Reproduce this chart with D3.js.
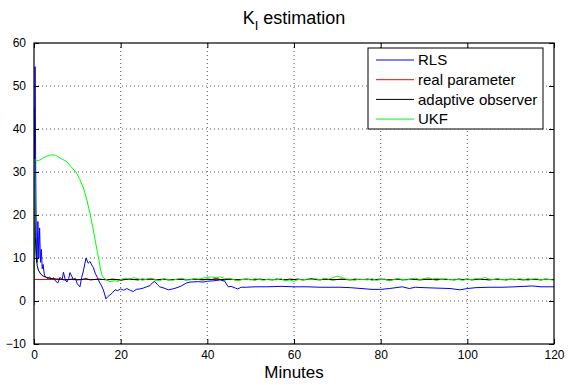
<!DOCTYPE html>
<html>
<head>
<meta charset="utf-8">
<script src="https://cdnjs.cloudflare.com/ajax/libs/d3/7.8.5/d3.min.js"></script>
<style>
  body { margin: 0; background: #fff; }
  svg { font-family: "Liberation Sans", Arial, Helvetica, sans-serif; }
</style>
</head>
<body>
<div id="chart"></div>
<script>
// ---- data ----
var xTicks = [0, 20, 40, 60, 80, 100, 120];
var yTicks = [-10, 0, 10, 20, 30, 40, 50, 60];
var seriesNames = ["RLS", "real parameter", "adaptive observer", "UKF"];
var seriesColors = ["#0000ff", "#ff0000", "#000000", "#00ff00"];

// RLS estimate, [minute, value]
var rlsData = [[0,-1],[0.1,20],[0.25,54.5],[0.4,30],[0.55,12],[0.7,9],[0.9,18.5],[1.1,10],[1.3,17],[1.5,9],
  [1.7,12],[1.9,7.5],[2.1,8.5],[2.4,6],[2.8,5.5],[3.2,5.2],[3.6,5.6],[4.0,5.0],[4.5,5.4],[5.0,4.6],
  [5.5,4.2],[6.0,5.5],[6.5,5.0],[6.8,6.7],[7.2,5.0],[7.6,4.4],[8.0,5.2],[8.3,6.6],[8.7,5.8],[9.1,4.9],
  [9.5,5.3],[10.0,4.0],[10.6,3.3],[11.0,5.5],[11.4,7.0],[12.0,10.0],[12.5,8.8],[12.9,9.2],[13.3,8.4],[13.7,7.8],
  [14.1,6.5],[14.6,5.5],[15.2,4.2],[15.6,3.5],[16.0,2.6],[16.6,0.5],[17.0,1.0],[17.5,1.4],[18.0,1.8],[18.7,2.6],
  [19.3,2.4],[20,2.8],[20.7,2.5],[21.4,2.9],[22.2,2.5],[22.9,2.2],[23.6,2.7],[24.4,2.8],[25.2,3.0],[26,3.3],
  [26.8,3.6],[27.4,4.3],[27.9,4.5],[28.5,3.8],[29,3.3],[30,3.0],[31,2.6],[32,2.8],[33,3.1],[34,3.5],
  [35.2,4.2],[36,4.4],[37.9,4.5],[39,4.4],[40,4.6],[41.5,4.7],[43,4.9],[44,4.6],[44.8,3.3],[45.5,3.4],
  [46.5,3.0],[47,2.8],[47.8,3.2],[49,3.2],[51,3.3],[53.7,3.3],[57,3.4],[60,3.3],[63,3.3],[66,3.2],
  [70.6,3.2],[73,3.1],[76.8,2.8],[78,2.7],[80,2.7],[82,2.9],[85,3.3],[86.6,2.9],[88,3.2],[90,3.1],
  [93,3.0],[96,2.9],[98.3,2.6],[100,2.9],[102,3.1],[105,3.2],[108,3.2],[111,3.3],[115,3.5],[117,3.3],[120,3.3]];

// real parameter
var realData = [[0,5],[120,5]];

// adaptive observer: fast start, then one value per minute from minute 6
var obsHead = [[0,45],[0.15,25],[0.3,15],[0.5,10.3],[0.75,8.2],[1,7.2],[1.4,6.5],[1.8,6.0],[2.3,5.7],[2.9,5.5],[3.5,5.3],[4.2,5.2],[5.2,5.1]];
var obsTailStart = 6;
var obsTail = [5.1,4.9,5.0,5.1,4.9,5.0,5.2,4.9,5.0,5.1,5.0,4.9,5.1,5.0,4.8,5.0,5.1,5.0,4.9,5.1,5.0,5.2,4.9,5.0,5.1,4.9,5.0,5.0,5.1,4.9,
  5.0,5.1,5.0,4.9,5.1,5.0,5.2,5.0,4.9,5.1,5.0,4.9,5.0,5.1,5.0,4.9,5.1,5.0,5.0,4.9,5.1,5.0,4.9,5.1,5.0,5.1,4.9,5.0,5.2,5.0,
  4.9,5.1,5.0,4.9,5.0,5.1,5.0,4.9,5.1,5.0,5.0,5.1,4.9,5.0,5.1,5.0,4.8,5.0,5.1,4.9,5.0,5.1,5.0,4.9,5.0,5.1,5.0,4.9,5.1,5.0,
  5.0,4.9,5.1,5.0,5.1,4.9,5.0,5.1,5.0,4.9,5.0,5.1,5.0,4.9,5.1,5.0,5.0,4.9,5.1,5.0,5.0,4.9,5.1,5.0,5.0];

// UKF: hump, then one value per minute from minute 20
var ukfHead = [[0,5],[0.1,33],[0.3,32.8],[1,32.6],[2,33.2],[3,33.7],[4,34],[5,33.9],[5.6,33.5],[6.5,33.0],
  [7.6,32.4],[8.5,31.3],[9.8,29.8],[10.6,28.2],[11.4,26.3],[12.2,23.5],[13,20],[13.6,17],[14.1,14.2],[14.6,11.5],
  [15,9.5],[15.3,7.5],[15.7,6.0],[16.1,5.3],[17,4.8],[17.5,4.5],[18.5,4.7],[19.5,4.6]];
var ukfTailStart = 20;
var ukfTail = [5.0,5.3,5.1,5.4,5.2,4.8,5.1,5.3,5.0,4.7, 5.2,5.0,4.8,5.1,5.3,5.0,4.9,5.2,5.1,5.3,
  5.5,5.6,5.4,5.6,5.2,5.3,5.0,4.7,5.0,5.1, 4.9,5.2,5.0,4.8,5.1,5.0,4.9,5.2,4.7,4.9,
  4.6,5.0,4.9,5.1,5.0,5.2,4.9,5.3,5.1,5.4, 5.8,5.5,5.1,5.0,4.8,5.1,5.0,4.9,5.2,4.8,
  5.0,5.1,4.7,5.0,5.2,5.0,4.9,5.1,5.3,5.0, 5.2,5.4,5.1,5.3,5.0,5.2,4.9,5.1,5.0,4.8,
  5.1,5.0,5.2,5.1,5.5,5.1,5.0,5.2,4.9,5.1, 5.0,4.9,5.2,5.0,4.8,5.1,5.2,4.9,5.1,5.0, 4.8];

// ---- layout ----
var W = 577, H = 385;
var margin = { top: 43, right: 23, bottom: 41, left: 34 },
    width = W - margin.left - margin.right,
    height = H - margin.top - margin.bottom;

var svg = d3.select("#chart").append("svg")
    .attr("width", W)
    .attr("height", H);

var g = svg.append("g")
    .attr("transform", "translate(" + margin.left + "," + margin.top + ")");

var x = d3.scaleLinear().domain([0, 120]).range([0, width]);
var y = d3.scaleLinear().domain([-10, 60]).range([height, 0]);

// grid
g.append("g").selectAll("line")
  .data(xTicks.slice(1, -1))
  .enter().append("line")
    .attr("x1", d => x(d)).attr("x2", d => x(d))
    .attr("y1", 0).attr("y2", height)
    .attr("stroke", "#555").attr("stroke-width", 1)
    .attr("stroke-dasharray", "1,3");
g.append("g").selectAll("line")
  .data(yTicks.slice(1, -1))
  .enter().append("line")
    .attr("y1", d => y(d)).attr("y2", d => y(d))
    .attr("x1", 0).attr("x2", width)
    .attr("stroke", "#555").attr("stroke-width", 1)
    .attr("stroke-dasharray", "1,3");

// series
var line = d3.line().x(d => x(d[0])).y(d => y(d[1]));
var clip = g.append("clipPath").attr("id", "clip")
  .append("rect").attr("width", width).attr("height", height);

var obsData = obsHead.concat(obsTail.map((v, i) => [obsTailStart + i, v]));
var ukfData = ukfHead.concat(ukfTail.map((v, i) => [ukfTailStart + i, v]));
var allSeries = [rlsData, realData, obsData, ukfData];

g.append("g").attr("clip-path", "url(#clip)")
  .selectAll("path")
  .data(allSeries)
  .enter().append("path")
    .attr("d", line)
    .attr("fill", "none")
    .attr("stroke", (d, i) => seriesColors[i])
    .attr("stroke-width", 1)
    .attr("stroke-linejoin", "round");

// axes (ticks inward, box all round)
function styleAxis(sel) {
  sel.select(".domain").remove();
  sel.selectAll(".tick line").attr("stroke", "#000");
  sel.selectAll(".tick text").attr("fill", "#000").style("font-size", "12px");
}
g.append("g")
  .attr("transform", "translate(0," + height + ")")
  .call(d3.axisBottom(x).tickValues(xTicks).tickSizeInner(-5).tickSizeOuter(0).tickPadding(6))
  .call(styleAxis);
g.append("g")
  .call(d3.axisLeft(y).tickValues(yTicks).tickSizeInner(-5).tickSizeOuter(0).tickPadding(8))
  .call(styleAxis);
g.append("g")
  .call(d3.axisTop(x).tickValues(xTicks).tickSizeInner(-5).tickSizeOuter(0).tickFormat(""))
  .call(styleAxis);
g.append("g")
  .attr("transform", "translate(" + width + ",0)")
  .call(d3.axisRight(y).tickValues(yTicks).tickSizeInner(-5).tickSizeOuter(0).tickFormat(""))
  .call(styleAxis);

g.append("rect")
  .attr("width", width).attr("height", height)
  .attr("fill", "none").attr("stroke", "#000").attr("stroke-width", 1.2);

// title
var title = svg.append("text")
  .attr("x", margin.left + width / 2).attr("y", 24)
  .attr("text-anchor", "middle")
  .style("font-size", "18px");
title.append("tspan").text("K");
title.append("tspan").attr("dy", 6).style("font-size", "13px").text("I");
title.append("tspan").attr("dy", -6).text(" estimation");

// x label
svg.append("text")
  .attr("x", margin.left + width / 2).attr("y", 378)
  .attr("text-anchor", "middle")
  .style("font-size", "17px")
  .text("Minutes");

// legend
var legend = svg.append("g").attr("transform", "translate(368,48)");
legend.append("rect")
  .attr("width", 175).attr("height", 81)
  .attr("fill", "#fff").attr("stroke", "#000").attr("stroke-width", 1);
var rows = legend.selectAll("g.row")
  .data(seriesNames)
  .enter().append("g")
    .attr("class", "row")
    .attr("transform", (d, i) => "translate(0," + (12 + i * 19.7) + ")");
rows.append("line")
  .attr("x1", 8).attr("x2", 46)
  .attr("stroke", (d, i) => seriesColors[i]).attr("stroke-width", 1);
rows.append("text")
  .attr("x", 50).attr("dy", "0.35em")
  .style("font-size", "15px")
  .text(d => d);
</script>
</body>
</html>
